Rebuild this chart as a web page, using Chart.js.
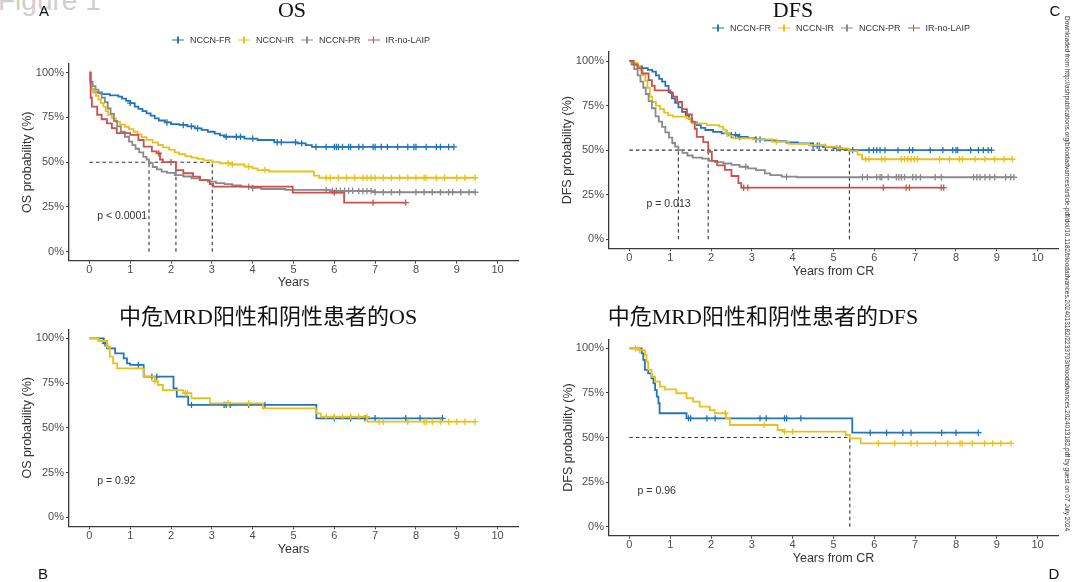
<!DOCTYPE html>
<html><head><meta charset="utf-8">
<script src="https://cdn.jsdelivr.net/npm/chart.js@4.4.1/dist/chart.umd.min.js"></script>
<style>
html,body{margin:0;padding:0;background:#fff;}
#stage{position:relative;width:1080px;height:582px;overflow:hidden;background:#fff;font-family:"Liberation Sans",Arial,sans-serif;}
#stage canvas{position:absolute;}
.t{position:absolute;white-space:nowrap;transform:translate(-50%,-50%);line-height:1;}
.ttl{font-family:"Liberation Serif","Noto Sans CJK SC",serif;font-size:22px;color:#111;}
.lt{font-size:15px;color:#111;}
.legend{position:absolute;display:flex;align-items:center;font-size:9px;color:#333;white-space:nowrap;transform:translateY(-50%);line-height:1;}
.li{display:flex;align-items:center;margin-right:7px;}
.ico{position:relative;width:12px;height:8px;margin-right:6px;}
.ico .h{position:absolute;left:0;top:3.25px;width:12px;height:1.5px;}
.ico .v{position:absolute;left:5.25px;top:0.5px;width:1.5px;height:7px;}
#fig{position:absolute;left:-2px;top:-13px;font-size:28px;color:#cfcfcf;line-height:1;}
#wm{position:absolute;left:1063px;top:16px;writing-mode:vertical-rl;font-size:6.5px;color:#333;white-space:nowrap;line-height:1;}
</style></head><body>
<div id="stage">
  <div id="fig">Figure 1</div>
  <canvas id="cA" width="540" height="290" style="left:0;top:0"></canvas>
  <canvas id="cC" width="540" height="290" style="left:540px;top:0"></canvas>
  <canvas id="cB" width="540" height="292" style="left:0;top:290px"></canvas>
  <canvas id="cD" width="540" height="292" style="left:540px;top:290px"></canvas>
  <div class="t ttl" style="left:292px;top:10px">OS</div>
  <div class="t ttl" style="left:793px;top:10px">DFS</div>
  <div class="t ttl" style="left:268px;top:317px">中危MRD阳性和阴性患者的OS</div>
  <div class="t ttl" style="left:763px;top:317px">中危MRD阳性和阴性患者的DFS</div>
  <div class="t lt" style="left:44px;top:10px">A</div>
  <div class="t lt" style="left:1055px;top:10px">C</div>
  <div class="t lt" style="left:43px;top:573px">B</div>
  <div class="t lt" style="left:1054px;top:573px">D</div>
  <div class="legend" id="legA" style="left:172px;top:40px"></div>
  <div class="legend" id="legC" style="left:712px;top:28px"></div>
  <div id="wm">Downloaded from http://ashpublications.org/bloodadvances/article-pdf/doi/10.1182/bloodadvances.2024013182/2233703/bloodadvances.2024013182.pdf by guest on 07 July 2024</div>
</div>
<script>
// ---------- shared labels ----------
const xTicks = [0,1,2,3,4,5,6,7,8,9,10];
const yTicks = [0,25,50,75,100];
const groupNames = ['NCCN-FR','NCCN-IR','NCCN-PR','IR-no-LAIP'];

// ---------- Panel A: OS (time in years, survival %) ----------
const osFR = [[0,100],[0.02,95],[0.05,91],[0.1,89],[0.3,88],[0.5,87.3],[0.71,86.6],[0.8,85.5],[0.9,84.3],[1.0,83],[1.11,81],[1.2,79.8],[1.3,78.5],[1.4,77.3],[1.5,76],[1.6,74.5],[1.7,73.3],[1.85,72.2],[2.0,71.3],[2.2,70.8],[2.4,70],[2.58,68.9],[2.75,68],[2.9,67],[3.07,66],[3.2,65],[3.31,64.2],[3.8,63.2],[4.12,62.4],[4.53,61.1],[5.1,60.5],[5.3,59.5],[5.45,58.5],[8.93,58.5]];
const osIR = [[0,100],[0.02,94],[0.05,91],[0.1,89],[0.16,87],[0.22,85],[0.28,83],[0.34,81],[0.4,78.5],[0.46,76.4],[0.55,74.5],[0.65,72.5],[0.75,71],[0.87,69.8],[0.97,68.5],[1.08,67],[1.18,65.5],[1.28,64],[1.4,62.5],[1.55,61],[1.68,59.6],[1.8,58.3],[1.95,57],[2.09,55.5],[2.2,54.5],[2.35,53.4],[2.5,52.5],[2.65,51.8],[2.8,51],[3.01,50],[3.2,49.4],[3.5,48.7],[3.8,47.5],[4.0,46.5],[4.12,45.6],[4.4,44.8],[5.5,42.5],[5.63,41.3],[9.45,41.3]];
const osPR = [[0,100],[0.03,95],[0.08,92.5],[0.15,90.5],[0.22,88.5],[0.3,86],[0.38,83.5],[0.45,80],[0.52,77],[0.6,73],[0.68,70],[0.77,67],[0.87,64.2],[0.97,61.5],[1.05,59.5],[1.13,57.5],[1.22,55.5],[1.32,53],[1.4,51.5],[1.46,49.5],[1.55,47.3],[1.65,46],[1.77,44.7],[1.9,44],[2.09,42.8],[2.3,42],[2.5,41],[2.7,40],[2.9,39.1],[3.1,38.3],[3.31,37.7],[3.5,37],[3.72,36.3],[4.0,35.6],[4.21,35],[4.8,34.5],[5.9,34],[6.6,33.8],[7.0,33.2],[9.45,33.2]];
const osLAIP = [[0,100],[0.03,86],[0.06,81],[0.19,76.5],[0.3,74],[0.43,71.7],[0.55,69],[0.67,66.2],[1.0,65.2],[1.2,62.4],[1.33,58.7],[1.53,56],[1.65,54.9],[1.73,51.5],[1.8,50],[2.12,45.6],[2.3,43.8],[2.54,41.9],[2.71,40],[2.95,37.8],[3.03,36.3],[4.98,33],[6.24,27.4],[7.75,27.4]];
const osFRCensor = [1.0,1.9,2.3,2.5,2.65,3.35,3.6,3.7,4.0,4.6,4.7,5.05,5.2,5.55,5.8,6.0,6.05,6.1,6.2,6.35,6.4,6.6,6.7,6.95,7.0,7.15,7.3,7.55,7.8,7.95,8.0,8.25,8.5,8.6,8.8,8.93];
const osIRCensor = [3.4,3.5,3.9,4.3,5.8,5.9,6.1,6.3,6.5,6.7,6.8,6.9,7.0,7.2,7.4,7.6,7.8,8.0,8.2,8.25,8.5,8.7,9.0,9.2,9.45];
const osPRCensor = [3.9,4.0,5.8,5.95,6.05,6.15,6.25,6.35,6.45,6.6,6.7,6.8,6.9,7.0,7.2,7.4,7.6,8.0,8.2,8.4,8.6,8.8,8.9,9.1,9.3,9.45];
const osLAIPCensor = [1.7,2.0,6.0,6.95,7.75];
const osMedians = [1.46,2.12,3.01];

// ---------- Panel C: DFS ----------
const dfsFR = [[0,100],[0.1,98.5],[0.2,97],[0.31,96],[0.45,95],[0.56,94],[0.65,92],[0.73,90],[0.8,88.4],[0.88,86],[0.96,82.5],[1.04,79],[1.12,76.5],[1.2,74],[1.29,71.5],[1.38,69.5],[1.46,67.5],[1.53,65.5],[1.65,64],[1.75,62.5],[1.86,61.3],[2.05,60.3],[2.26,59.4],[2.45,58.5],[2.67,57.5],[2.9,56.8],[3.1,56],[3.32,55.5],[3.6,55],[3.85,54.3],[4.13,53.8],[4.5,52.5],[4.75,51.8],[5.0,51],[5.2,50.5],[5.38,50],[8.87,50]];
const dfsIR = [[0,100],[0.12,99],[0.2,97],[0.26,95],[0.33,92],[0.39,89],[0.44,85],[0.5,80],[0.56,77],[0.65,75],[0.75,73],[0.85,71],[0.95,69.5],[1.07,68.8],[1.4,67.9],[1.5,66],[1.56,65],[1.89,64],[2.2,63.2],[2.3,61.5],[2.37,59.4],[2.45,58],[2.54,56.6],[3.02,56],[3.5,54.8],[3.9,53.5],[4.4,52.8],[4.8,52],[5.1,51],[5.38,49.5],[5.59,47.5],[5.7,44.9],[9.38,44.9]];
const dfsPR = [[0,100],[0.05,98],[0.12,95.5],[0.2,92],[0.27,88.4],[0.34,85],[0.4,81.5],[0.47,77.5],[0.55,73.5],[0.64,69],[0.72,66],[0.8,63],[0.88,60],[0.97,57],[1.05,54],[1.12,52],[1.2,50],[1.3,48.5],[1.42,47],[1.55,45.8],[1.78,45.2],[1.95,44],[2.1,43.3],[2.3,42.5],[2.5,41.7],[2.7,40.7],[2.91,39.8],[3.1,38.8],[3.32,37],[3.45,36],[3.73,35.1],[4.1,34.8],[9.42,34.8]];
const dfsLAIP = [[0,100],[0.1,98],[0.2,96],[0.3,93],[0.47,89.3],[0.55,86],[0.62,83.5],[1.0,82],[1.07,80],[1.17,77],[1.29,73],[1.41,70],[1.53,66],[1.6,62],[1.65,57.5],[1.81,54.5],[1.93,49],[2.02,44],[2.15,41.5],[2.34,38.9],[2.5,35.5],[2.67,31.5],[2.74,29],[7.7,29]];
const dfsFRCensor = [2.4,2.5,2.6,2.7,3.1,3.2,4.5,4.6,4.65,4.8,5.08,5.16,5.47,5.87,5.98,6.06,6.14,6.26,6.58,6.86,6.94,7.37,7.68,7.92,8.0,8.04,8.36,8.55,8.67,8.79,8.87];
const dfsIRCensor = [2.4,3.6,5.79,5.87,6.18,6.26,6.66,6.74,6.82,6.9,6.98,7.05,7.6,7.84,8.08,8.16,8.47,8.71,8.95,9.18,9.38];
const dfsPRCensor = [2.85,3.85,5.71,5.83,6.06,6.14,6.18,6.34,6.54,6.6,6.66,6.74,6.94,7.02,7.13,7.49,7.64,8.43,8.51,8.59,8.71,8.83,8.95,9.22,9.34,9.42];
const dfsLAIPCensor = [2.8,2.9,6.22,6.78,6.86,7.64,7.7];
const dfsMedians = [1.2,1.93,5.39];

// ---------- Panel B: OS, intermediate risk MRD+/- ----------
const mrdOsBlue = [[0,100],[0.35,97.2],[0.43,94.4],[0.63,91.6],[0.84,88.8],[0.92,86],[1.0,85.1],[1.33,78.6],[2.06,72],[2.14,67.4],[2.42,62.8],[5.56,55.3],[8.65,55.3]];
const mrdOsYellow = [[0,100],[0.22,98.5],[0.43,95.3],[0.5,89.8],[0.58,86],[0.68,83.2],[1.33,78.6],[1.6,76],[1.68,73.9],[1.8,71.1],[2.3,69.3],[2.5,66.5],[2.95,63.7],[4.25,60.9],[5.55,58.1],[5.67,56.2],[6.81,53.4],[9.45,53.4]];
const mrdOsBlueCensor = [0.38,1.2,1.53,1.65,2.5,3.3,3.35,3.45,3.9,4.3,6.0,6.4,6.75,7.0,7.75,8.1,8.65];
const mrdOsYellowCensor = [0.45,1.6,2.35,2.4,3.4,3.9,5.8,6.0,6.2,6.4,6.6,6.8,7.1,7.2,7.8,8.2,8.25,8.4,8.6,8.8,9.0,9.2,9.45];

// ---------- Panel D: DFS, intermediate risk MRD+/- ----------
const mrdDfsBlue = [[0,100],[0.3,97.2],[0.34,93.5],[0.38,87.9],[0.46,86],[0.54,83.2],[0.59,80.4],[0.63,76.6],[0.67,72.9],[0.71,69.2],[0.74,63.6],[1.4,60.7],[5.46,52.7],[8.55,52.7]];
const mrdDfsYellow = [[0,100],[0.25,99],[0.38,96.3],[0.42,92.5],[0.46,87.9],[0.54,84.1],[0.63,81.3],[0.75,78.5],[0.87,77],[1.15,74.8],[1.4,72],[1.56,70.1],[1.72,67.3],[1.97,65.4],[2.09,63.6],[2.37,60.7],[2.46,57],[3.63,54.2],[3.76,53.3],[5.3,51.4],[5.4,49.5],[5.67,46.7],[9.35,46.7]];
const mrdDfsBlueCensor = [1.45,1.5,1.9,2.1,3.2,3.35,3.8,3.85,4.2,5.9,6.3,6.7,6.9,7.65,8.0,8.55];
const mrdDfsYellowCensor = [0.15,0.25,2.35,3.3,3.8,4.0,6.1,6.5,6.9,7.05,7.5,7.8,8.1,8.15,8.4,8.7,8.9,9.1,9.35];
const mrdDfsMedians = [5.4];

const pvalText = ['p < 0.0001','p = 0.013','p = 0.92','p = 0.96'];

// ---------- styles ----------
const palette = ['#2475B6','#E8C11F','#8A8A8A','#C9524F'];

Chart.defaults.font.family = '"Liberation Sans", Arial, sans-serif';

function stepAt(steps, t){
  let v = steps[0][1];
  for (const [x,y] of steps){ if (x <= t + 1e-9) v = y; else break; }
  return v;
}

function kmChart(id, cfg){
  const datasets = [];
  cfg.series.forEach((s,i)=>{
    const col = palette[s.color];
    const ord = 10 - s.color*2;
    datasets.push({data:s.steps.map(([x,y])=>({x,y})), stepped:'before', borderColor:col, borderWidth:1.8,
      pointRadius:0, fill:false, order:ord});
    datasets.push({data:s.censor.map(t=>({x:t,y:stepAt(s.steps,t)})), showLine:false, pointStyle:'cross',
      pointRadius:3.2, pointBorderColor:col, pointBorderWidth:1.3, borderColor:col, backgroundColor:col, order:ord-1});
  });
  if (cfg.medians.length){
    const mx = Math.max(...cfg.medians);
    const dash = {borderColor:'#333', borderWidth:1.1, borderDash:[3.5,3], pointRadius:0, fill:false, order:30};
    datasets.push(Object.assign({data:[{x:0,y:50},{x:mx,y:50}]}, dash));
    cfg.medians.forEach(m=>datasets.push(Object.assign({data:[{x:m,y:0},{x:m,y:50}]}, dash)));
  }
  const pvalPlugin = {
    id:'pval',
    afterDatasetsDraw(chart){
      const c = chart.ctx;
      c.save();
      c.font = '10.5px "Liberation Sans", Arial, sans-serif';
      c.fillStyle = '#333';
      c.textBaseline = 'middle';
      c.textAlign = 'left';
      c.fillText(cfg.pval, chart.scales.x.getPixelForValue(cfg.pvalX), chart.scales.y.getPixelForValue(20));
      c.restore();
    }
  };
  const L = cfg.layout;
  new Chart(document.getElementById(id), {
    type:'line',
    data:{datasets},
    options:{
      responsive:false, animation:false, maintainAspectRatio:false,
      layout:{padding:{left:0, right:22, top:L.top, bottom:0}},
      plugins:{legend:{display:false}, tooltip:{enabled:false}, title:{display:false}},
      elements:{line:{tension:0}},
      scales:{
        x:{type:'linear', min:-0.5, max:10.5,
          afterBuildTicks:s=>{ s.ticks = xTicks.map(v=>({value:v})); },
          afterFit:s=>{ s.height = L.xH; },
          ticks:{color:'#4d4d4d', font:{size:11}, padding:0, autoSkip:false, maxRotation:0},
          grid:{display:true, drawOnChartArea:false, drawTicks:true, tickLength:3, color:'#3a3a3a', lineWidth:1},
          border:{display:true, color:'#3a3a3a', width:1.3},
          title:{display:true, text:cfg.xTitle, color:'#333', font:{size:12.5}, padding:{top:0, bottom:L.xTP}}
        },
        y:{type:'linear', min:-5, max:105,
          afterBuildTicks:s=>{ s.ticks = yTicks.map(v=>({value:v})); },
          afterFit:s=>{ s.width = 69; },
          ticks:{color:'#4d4d4d', font:{size:11}, padding:2, callback:v=>v+'%'},
          grid:{display:true, drawOnChartArea:false, drawTicks:true, tickLength:3, color:'#3a3a3a', lineWidth:1},
          border:{display:true, color:'#3a3a3a', width:1.3},
          title:{display:true, text:cfg.yTitle, color:'#333', font:{size:12.5}, padding:{top:L.yTP, bottom:0}}
        }
      }
    },
    plugins:[pvalPlugin]
  });
}

kmChart('cA', {
  series:[
    {steps:osFR, censor:osFRCensor, color:0},
    {steps:osIR, censor:osIRCensor, color:1},
    {steps:osPR, censor:osPRCensor, color:2},
    {steps:osLAIP, censor:osLAIPCensor, color:3}
  ],
  medians:osMedians, pval:pvalText[0], pvalX:0.19,
  xTitle:'Years', yTitle:'OS probability (%)',
  layout:{top:63.75, xH:29.4, xTP:0, yTP:20.5}
});
kmChart('cC', {
  series:[
    {steps:dfsFR, censor:dfsFRCensor, color:0},
    {steps:dfsIR, censor:dfsIRCensor, color:1},
    {steps:dfsPR, censor:dfsPRCensor, color:2},
    {steps:dfsLAIP, censor:dfsLAIPCensor, color:3}
  ],
  medians:dfsMedians, pval:pvalText[1], pvalX:0.42,
  xTitle:'Years from CR', yTitle:'DFS probability (%)',
  layout:{top:52.1, xH:41.8, xTP:10.5, yTP:20.5}
});
kmChart('cB', {
  series:[
    {steps:mrdOsBlue, censor:mrdOsBlueCensor, color:0},
    {steps:mrdOsYellow, censor:mrdOsYellowCensor, color:1}
  ],
  medians:[], pval:pvalText[2], pvalX:0.19,
  xTitle:'Years', yTitle:'OS probability (%)',
  layout:{top:39.35, xH:55.75, xTP:24.5, yTP:20.5}
});
kmChart('cD', {
  series:[
    {steps:mrdDfsBlue, censor:mrdDfsBlueCensor, color:0},
    {steps:mrdDfsYellow, censor:mrdDfsYellowCensor, color:1}
  ],
  medians:mrdDfsMedians, pval:pvalText[3], pvalX:0.2,
  xTitle:'Years from CR', yTitle:'DFS probability (%)',
  layout:{top:49.4, xH:46.4, xTP:16, yTP:21.5}
});

// ---------- HTML legends ----------
function buildLegend(elId){
  const el = document.getElementById(elId);
  groupNames.forEach((name,i)=>{
    const item = document.createElement('div'); item.className='li';
    const ico = document.createElement('div'); ico.className='ico';
    const h = document.createElement('div'); h.className='h'; h.style.background = palette[i];
    const v = document.createElement('div'); v.className='v'; v.style.background = palette[i];
    ico.appendChild(h); ico.appendChild(v);
    const tx = document.createElement('span'); tx.textContent = name;
    item.appendChild(ico); item.appendChild(tx);
    el.appendChild(item);
  });
}
buildLegend('legA');
buildLegend('legC');
</script>
</body></html>
